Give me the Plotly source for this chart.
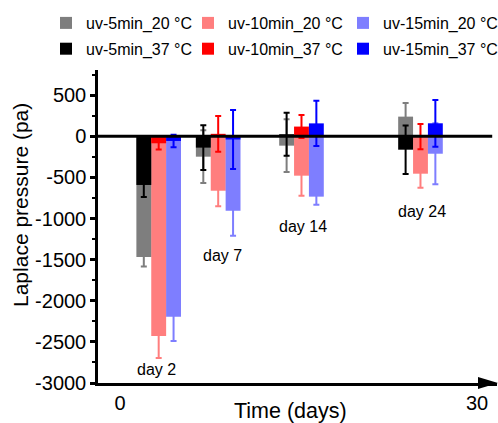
import plotly.graph_objects as go

days = [2, 7, 14, 24]
day_labels = ["day 2", "day 7", "day 14", "day 24"]
label_x = [3.08, 8.6, 15.35, 25.35]
label_y = [-2830, -1445, -1100, -915]

v5_20 = [-1468, -248, -114, 239]
e5_20 = [115, 320, 320, 166]
v10_20 = [-2430, -662, -479, -455]
e10_20 = [265, 190, 243, 170]
v15_20 = [-2194, -905, -734, -212]
e15_20 = [296, 304, 100, 372]

v5_37 = [-592, -138, 25, -163]
e5_37 = [146, 273, 262, 295]
v10_37 = [-85, 30, 118, -5]
e10_37 = [75, 217, 140, 153]
v15_37 = [-57, -39, 157, 158]
e15_37 = [75, 360, 275, 284]

y_tickvals = [-3000, -2500, -2000, -1500, -1000, -500, 0, 500]
y_ticktext = ["-3000", "-2500", "-2000", "-1500", "-1000", "-500", "0", "500"]

names_20 = ["uv-5min_20 °C", "uv-10min_20 °C", "uv-15min_20 °C"]
names_37 = ["uv-5min_37 °C", "uv-10min_37 °C", "uv-15min_37 °C"]
colors = ["#000000", "#ff0000", "#0000ff"]
legend_ids = ["legend", "legend2", "legend3"]

FONT = "Liberation Sans, Arial, sans-serif"
W = 1.25  # bar width in days

ML, MR, MT, MB = 98, 1, 70, 40
PW, PH = 498 - ML - MR, 423 - MT - MB

fig = go.Figure()

series_20 = [(v5_20, e5_20), (v10_20, e10_20), (v15_20, e15_20)]
series_37 = [(v5_37, e5_37), (v10_37, e10_37), (v15_37, e15_37)]

for i, ((vals, errs), name) in enumerate(zip(series_20, names_20)):
    fig.add_trace(go.Bar(
        x=days, y=vals, name=name, width=W, offset=-W / 2 + i * W,
        marker=dict(color=colors[i], line=dict(width=0)), opacity=0.5,
        error_y=dict(type="data", array=errs, color=colors[i], thickness=2, width=3),
        legend=legend_ids[i], legendgroup=name, legendrank=1,
    ))
for i, ((vals, errs), name) in enumerate(zip(series_37, names_37)):
    fig.add_trace(go.Bar(
        x=days, y=vals, name=name, width=W, offset=-W / 2 + i * W,
        marker=dict(color=colors[i], line=dict(width=0)),
        error_y=dict(type="data", array=errs, color=colors[i], thickness=2, width=3),
        legend=legend_ids[i], legendgroup=name, legendrank=2,
    ))

for t, xx, yy in zip(day_labels, label_x, label_y):
    fig.add_annotation(x=xx, y=yy, text=t, showarrow=False,
                       font=dict(size=16, color="black", family=FONT))

# axis titles placed as annotations
fig.add_annotation(xref="paper", yref="paper", x=(20 - ML) / PW, y=(423 - MB - 205) / PH,
                   xanchor="center", yanchor="middle",
                   text="Laplace pressure (pa)", textangle=-90, showarrow=False,
                   font=dict(size=21, color="black", family=FONT))
fig.add_annotation(xref="paper", yref="paper", x=(290 - ML) / PW, y=(423 - MB - 411) / PH,
                   xanchor="center", yanchor="middle",
                   text="Time (days)", showarrow=False,
                   font=dict(size=21.5, color="black", family=FONT))

# zero line above bars
fig.add_shape(type="line", xref="paper", yref="y", x0=0, x1=0.988, y0=0, y1=0,
              line=dict(color="black", width=3), layer="above")
# arrow head at the end of x axis
fig.add_shape(type="path", xref="paper", yref="paper", xsizemode="pixel", ysizemode="pixel",
              xanchor=1.0, yanchor=0, path="M1,0 L-19,6 L-19,-6 Z",
              fillcolor="black", line=dict(color="black", width=0), layer="above")

leg_common = dict(orientation="v", xref="container", yref="container",
                  xanchor="left", yanchor="top", font=dict(size=16, family=FONT),
                  bgcolor="rgba(0,0,0,0)", tracegroupgap=2, itemwidth=30)
legend_x_px = [46, 188, 343]

fig.update_layout(
    width=498, height=423,
    margin=dict(l=ML, r=MR, t=MT, b=MB, autoexpand=False),
    paper_bgcolor="white", plot_bgcolor="white",
    barmode="overlay",
    font=dict(family=FONT, color="black"),
    legend=dict(x=legend_x_px[0] / 498, y=1 - 6 / 423, **leg_common),
    legend2=dict(x=legend_x_px[1] / 498, y=1 - 6 / 423, **leg_common),
    legend3=dict(x=legend_x_px[2] / 498, y=1 - 6 / 423, **leg_common),
    showlegend=True,
    xaxis=dict(range=[-1.85, 31.68], tickvals=[0, 30], ticktext=["0", "30"],
               showline=True, linecolor="black", linewidth=3, ticks="",
               showgrid=False, zeroline=False,
               tickfont=dict(size=20, family=FONT)),
    yaxis=dict(range=[-3000, 806], tickvals=y_tickvals, ticktext=y_ticktext,
               showline=True, linecolor="black", linewidth=2.5,
               ticks="outside", ticklen=5, tickwidth=2.5, tickcolor="black",
               minor=dict(ticks="outside", tick0=0, dtick=250, ticklen=3, tickwidth=2,
                          tickcolor="black"),
               showgrid=False, zeroline=False,
               tickfont=dict(size=20, family=FONT)),
)

fig.write_html("out.html")
